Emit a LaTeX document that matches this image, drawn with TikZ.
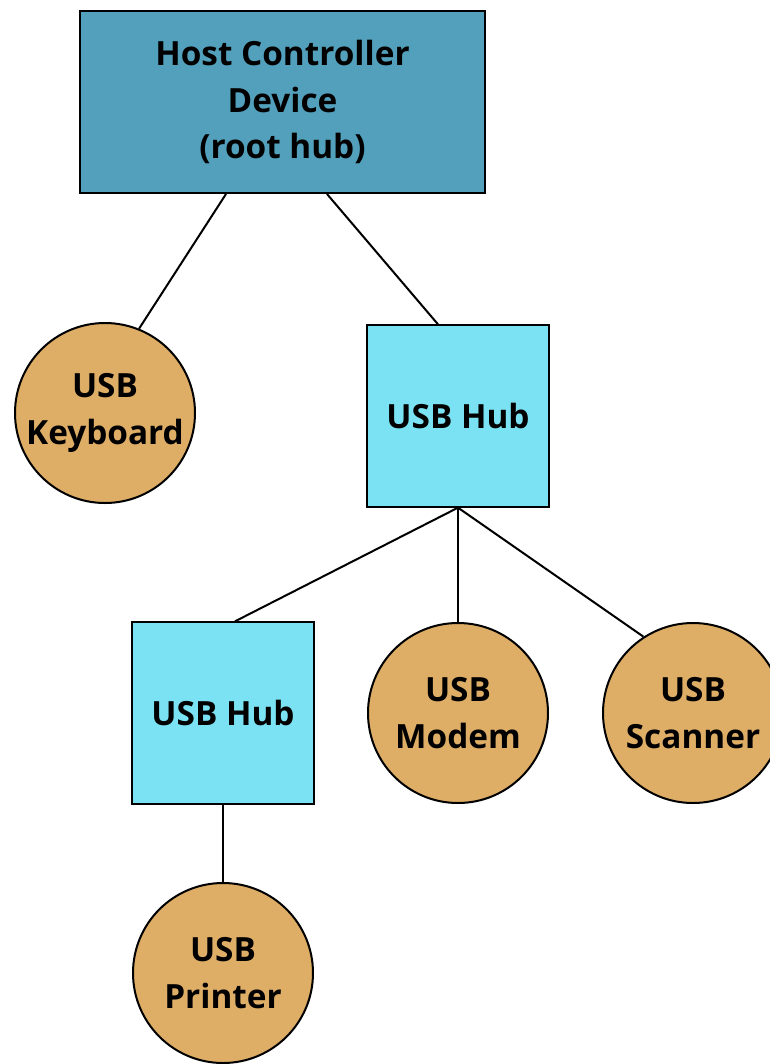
\documentclass[tikz,border=0pt]{standalone}
\usepackage{fontspec}
\setmainfont{Open Sans}
\usetikzlibrary{calc}

\definecolor{hostblue}{HTML}{52A0BC}
\definecolor{hubcyan}{HTML}{7BE2F3}
\definecolor{devtan}{HTML}{DEAD66}

\tikzset{
  base/.style={draw=black, line width=1.5pt, align=center, inner sep=0pt,
    font=\fontsize{25}{35}\selectfont\bfseries},
  hostbox/.style={base, rectangle, fill=hostblue,
    minimum width=303.75pt, minimum height=136.5pt},
  hubbox/.style={base, rectangle, fill=hubcyan, minimum size=136pt},
  device/.style={base, circle, fill=devtan, minimum size=135pt},
  wire/.style={line width=1.5pt}
}

\begin{document}
\begin{tikzpicture}[x=0.75pt, y=-0.75pt]
    \useasboundingbox (0,0) rectangle (769,1064);
    % tree of devices
    \node[hostbox] (host) at (282.5,102) {Host Controller\\Device\\(root hub)};
    \node[device] (kbd) at (105,413) {USB\\Keyboard};
    \node[hubbox] (hubA) at (458,416) {USB Hub};
    \node[hubbox] (hubB) at (223,713) {USB Hub};
    \node[device] (modem) at (458,713) {USB\\Modem};
    \node[device] (scan) at (693,713) {USB\\Scanner};
    \node[device] (printer) at (223,973) {USB\\Printer};
    % cables
    \draw[wire] ($(host.south)+(-56.5,0)$) -- (kbd.68);
    \draw[wire] ($(host.south)+(44.5,0)$) -- ($(hubA.north)+(-20,0)$);
    \draw[wire] (hubA.south) -- ($(hubB.north)+(12,0)$);
    \draw[wire] (hubA.south) -- (modem.north);
    \draw[wire] (hubA.south) -- (scan.123);
    \draw[wire] (hubB.south) -- (printer.north);
\end{tikzpicture}
\end{document}
